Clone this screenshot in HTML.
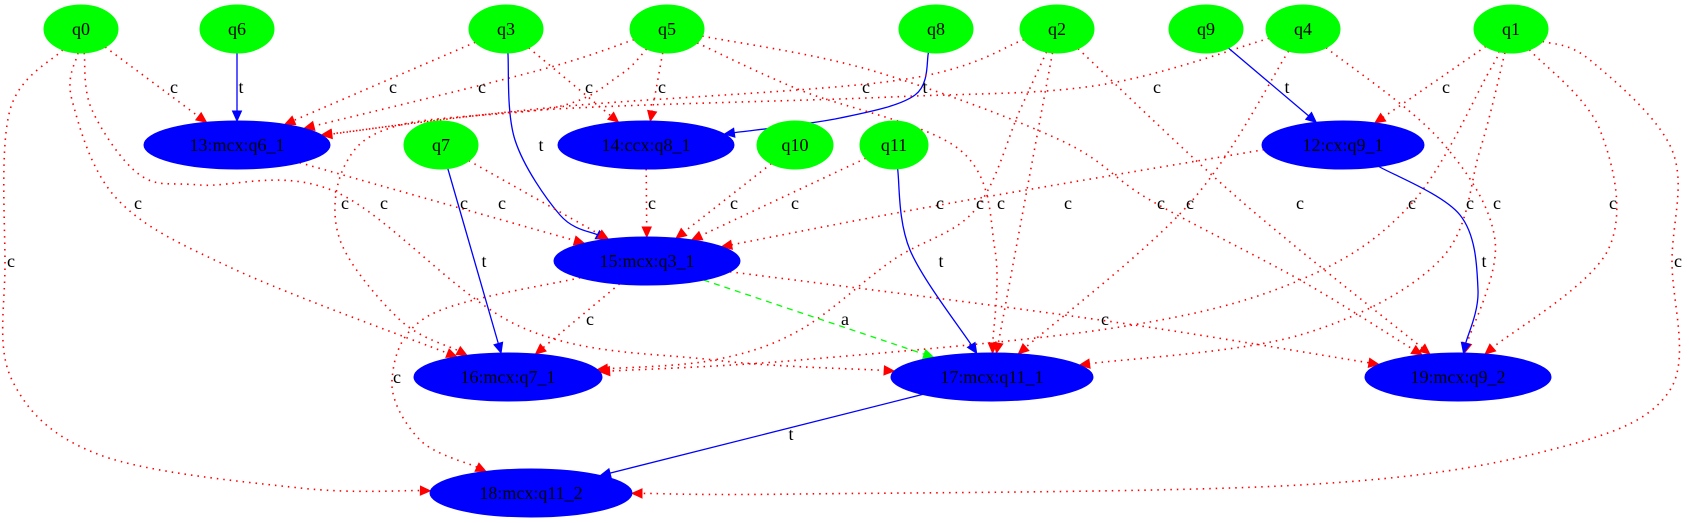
<!DOCTYPE html>
<html><head><meta charset="utf-8"><style>
html,body{margin:0;padding:0;background:#fff;}
svg{display:block;}
text{font-family:"Liberation Serif",serif;}
</style></head><body>
<svg id="s" width="1689" height="523" viewBox="0 0 1689 523" xmlns="http://www.w3.org/2000/svg">
<g id="E"></g><g id="Nd"></g><g id="L"></g>
</svg>
<script>
const N={
q0:[81,29,37,24,'g'],q6:[237,29,37,24,'g'],q3:[506,29,37,24,'g'],q5:[667,29,37,24,'g'],
q8:[936,29,37,24,'g'],q2:[1057,29,37,24,'g'],q9:[1206,29,37,24,'g'],q4:[1303,29,37,24,'g'],q1:[1511,29,37,24,'g'],
n13:[237,145,93,24,'b','13:mcx:q6_1'],n14:[646,145,88,24,'b','14:ccx:q8_1'],q7:[441,145,37,24,'g'],
q10:[795,145,38,24,'g'],q11:[894,145,34,24,'g'],n12:[1343,145,81,24,'b','12:cx:q9_1'],
n15:[647,261,93,24,'b','15:mcx:q3_1'],n16:[508,377,94,24,'b','16:mcx:q7_1'],n17:[992,377,101,24,'b','17:mcx:q11_1'],
n19:[1458,377,93,24,'b','19:mcx:q9_2'],n18:[531,493,101,24,'b','18:mcx:q11_2']
};
// [src,tgt,waypoints,label,lx,ly,type] type: c=red dotted, t=blue, a=green dashed
const E=[
['q0','n13',[],'c',174,87,'c'],
['q6','n13',[],'t',241,87,'t'],
['q3','n13',[],'c',393,87,'c'],
['q5','n13',[[540,70]],'c',482,87,'c'],
['q3','n14',[],'c',589,87,'c'],
['q5','n14',[],'c',662,87,'c'],
['q8','n14',[[915,95],[840,118]],'t',925,87,'t'],
['q2','n13',[[900,80],[557,107]],'c',866,87,'c'],
['q4','n13',[[1100,85],[891,97],[540,110]],'c',1157,87,'c'],
['q9','n12',[],'t',1287,87,'t'],
['q1','n12',[],'c',1446,87,'c'],
['q3','n15',[[515,140],[560,215]],'t',541,145,'t'],
['q0','n16',[[72,100],[118,200],[236,270]],'c',138,203,'c'],
['q0','n17',[[92,110],[140,175],[200,185],[336,192],[521,327],[714,360]],'c',384,203,'c'],
['q5','n16',[[620,75],[557,107],[400,125],[345,165],[340,240],[400,320]],'c',345,203,'c'],
['q5','n17',[[800,90],[960,150],[995,250]],'c',1001,203,'c'],
['q5','n19',[[870,70],[1060,140],[1150,200],[1300,280]],'c',1161,203,'c'],
['q2','n16',[[1020,110],[975,210],[893,260],[800,330],[714,360]],'c',980,203,'c'],
['q1','n16',[[1490,70],[1412,203],[1300,280],[1120,327],[800,360]],'c',1412,203,'c'],
['q2','n17',[],'c',1068,203,'c'],
['q2','n19',[[1240,200]],'c',1300,203,'c'],
['q4','n17',[[1190,203]],'c',1190,203,'c'],
['q4','n19',[[1440,140],[1495,240]],'c',1497,203,'c'],
['q1','n17',[[1480,150],[1440,260],[1300,335]],'c',1470,203,'c'],
['q1','n19',[[1600,130],[1608,250]],'c',1613,203,'c'],
['q0','n18',[[10,110],[5,261],[12,380],[100,455],[300,488]],'c',11,261,'c'],
['q1','n18',[[1590,60],[1672,150],[1672,261],[1670,390],[1550,450],[1300,485],[800,494]],'c',1678,261,'c'],
['n13','n15',[],'c',464,203,'c'],
['q7','n15',[],'c',502,203,'c'],
['n14','n15',[],'c',652,203,'c'],
['q10','n15',[],'c',734,203,'c'],
['q11','n15',[],'c',795,203,'c'],
['n12','n15',[[1262,150],[940,205]],'c',940,203,'c'],
['q7','n16',[],'t',484,261,'t'],
['q11','n17',[[910,250]],'t',941,261,'t'],
['n12','n19',[[1460,215],[1478,290]],'t',1484,261,'t'],
['n15','n16',[],'c',590,319,'c'],
['n15','n17',[],'a',845,319,'a'],
['n15','n19',[[1100,320]],'c',1105,319,'c'],
['n15','n18',[[430,315],[392,380],[420,440]],'c',397,377,'c'],
['n17','n18',[],'t',791,434,'t']
];
function bd(n,p){const[cx,cy,rx,ry]=N[n];const dx=p[0]-cx,dy=p[1]-cy;const t=1/Math.hypot(dx/rx,dy/ry);return [cx+dx*t,cy+dy*t];}
const ns='http://www.w3.org/2000/svg';
function el(tag,a,parent,txt){const e=document.createElementNS(ns,tag);for(const k in a)e.setAttribute(k,a[k]);if(txt!==undefined)e.textContent=txt;document.getElementById(parent).appendChild(e);return e;}
const col={c:'#ff0000',t:'#0000ff',a:'#00ff00'};
for(const [s,t,w,lab,lx,ly,ty] of E){
  const sc=[N[s][0],N[s][1]],tc=[N[t][0],N[t][1]];
  const first=w.length?w[0]:tc, last=w.length?w[w.length-1]:sc;
  const start=bd(s,first), tip=bd(t,last);
  const prev=w.length?last:start;
  let dx=tip[0]-prev[0],dy=tip[1]-prev[1];const L=Math.hypot(dx,dy);dx/=L;dy/=L;
  const base=[tip[0]-dx*10,tip[1]-dy*10];
  const pts=[start,...w,base];
  let d='M'+pts[0][0].toFixed(1)+','+pts[0][1].toFixed(1);
  for(let i=0;i<pts.length-1;i++){
    const p0=pts[i-1]||pts[i],p1=pts[i],p2=pts[i+1],p3=pts[i+2]||p2;
    const c1=[p1[0]+(p2[0]-p0[0])/6,p1[1]+(p2[1]-p0[1])/6];
    const c2=[p2[0]-(p3[0]-p1[0])/6,p2[1]-(p3[1]-p1[1])/6];
    d+=' C'+c1.map(v=>v.toFixed(1))+' '+c2.map(v=>v.toFixed(1))+' '+p2.map(v=>v.toFixed(1));
  }
  const a={d:d,fill:'none',stroke:col[ty],'stroke-width':ty==='c'?1.6:1.3};
  if(ty==='c')a['stroke-dasharray']='1.5,5';
  if(ty==='a')a['stroke-dasharray']='6,5';
  el('path',a,'E');
  const px=-dy*4.5,py=dx*4.5;
  el('polygon',{points:`${tip[0]},${tip[1]} ${base[0]+px},${base[1]+py} ${base[0]-px},${base[1]-py}`,fill:col[ty],stroke:col[ty]},'E');
  el('text',{x:lx,y:ly+6,'font-size':18,'text-anchor':'middle',fill:'#000'},'L',lab);
}
for(const k in N){const [cx,cy,rx,ry,c,lab]=N[k];
  el('ellipse',{cx:cx,cy:cy,rx:rx,ry:ry,fill:c==='g'?'#00ff00':'#0000ff',stroke:c==='g'?'#00ff00':'#0000ff'},'Nd');
  el('text',{x:cx,y:cy+6,'font-size':18,'text-anchor':'middle',fill:'#000'},'Nd',lab||k);
}
</script>
</body></html>
